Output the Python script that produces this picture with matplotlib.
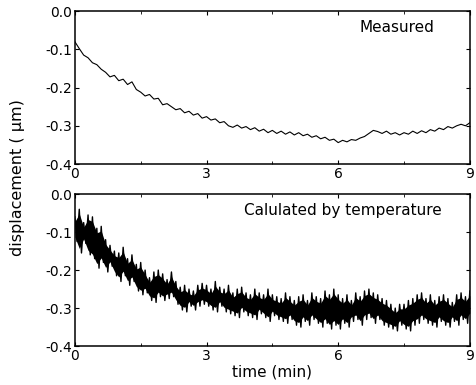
import numpy as np
import matplotlib
matplotlib.use("Agg")
import matplotlib.pyplot as plt
from matplotlib.ticker import MultipleLocator, FormatStrFormatter

plt.rcParams['font.family'] = ['DejaVu Sans']

# time axis, 0.1 min steps
t = np.arange(91) / 10.0

# measured displacement (um)
measured = [
    -0.080, -0.098, -0.115, -0.122, -0.135, -0.140, -0.152, -0.160, -0.172, -0.168,
    -0.182, -0.178, -0.192, -0.185, -0.205, -0.212, -0.222, -0.218, -0.230, -0.228,
    -0.245, -0.242, -0.250, -0.258, -0.255, -0.266, -0.262, -0.272, -0.268, -0.280,
    -0.276, -0.285, -0.282, -0.292, -0.289, -0.300, -0.304, -0.298, -0.306, -0.302,
    -0.310, -0.305, -0.314, -0.309, -0.318, -0.312, -0.320, -0.314, -0.322, -0.316,
    -0.324, -0.318, -0.326, -0.322, -0.330, -0.326, -0.334, -0.330, -0.338, -0.335,
    -0.344, -0.338, -0.342, -0.336, -0.338, -0.332, -0.328, -0.320, -0.312, -0.315,
    -0.320, -0.314, -0.322, -0.318, -0.324, -0.318, -0.322, -0.314, -0.320, -0.313,
    -0.318, -0.310, -0.314, -0.306, -0.310, -0.302, -0.306, -0.300, -0.296, -0.300,
    -0.292,
]

# calculated by temperature: upper / lower edge of the noisy trace
calc_upper = [
    -0.060, -0.040, -0.075, -0.055, -0.060, -0.090, -0.085, -0.120, -0.135, -0.150,
    -0.155, -0.140, -0.170, -0.160, -0.185, -0.180, -0.200, -0.220, -0.205, -0.200,
    -0.210, -0.225, -0.205, -0.230, -0.245, -0.240, -0.250, -0.255, -0.240, -0.235,
    -0.240, -0.250, -0.230, -0.245, -0.250, -0.240, -0.260, -0.250, -0.245, -0.260,
    -0.265, -0.250, -0.260, -0.265, -0.250, -0.265, -0.270, -0.275, -0.260, -0.270,
    -0.280, -0.270, -0.265, -0.280, -0.260, -0.270, -0.275, -0.255, -0.265, -0.250,
    -0.265, -0.275, -0.265, -0.280, -0.260, -0.270, -0.255, -0.250, -0.260, -0.265,
    -0.275, -0.280, -0.290, -0.300, -0.290, -0.290, -0.280, -0.275, -0.265, -0.260,
    -0.275, -0.265, -0.280, -0.270, -0.265, -0.275, -0.285, -0.265, -0.260, -0.270,
    -0.255,
]
calc_lower = [
    -0.125, -0.155, -0.130, -0.160, -0.170, -0.195, -0.180, -0.205, -0.190, -0.215,
    -0.230, -0.215, -0.240, -0.230, -0.255, -0.265, -0.260, -0.280, -0.285, -0.270,
    -0.280, -0.275, -0.270, -0.290, -0.305, -0.310, -0.295, -0.305, -0.295, -0.290,
    -0.295, -0.305, -0.310, -0.295, -0.310, -0.315, -0.320, -0.325, -0.310, -0.320,
    -0.325, -0.330, -0.315, -0.325, -0.335, -0.320, -0.330, -0.335, -0.340, -0.330,
    -0.345, -0.350, -0.335, -0.345, -0.330, -0.340, -0.350, -0.340, -0.355, -0.345,
    -0.355, -0.340, -0.350, -0.335, -0.330, -0.345, -0.330, -0.325, -0.340, -0.330,
    -0.345, -0.350, -0.355, -0.360, -0.345, -0.355, -0.360, -0.345, -0.340, -0.330,
    -0.340, -0.345, -0.350, -0.335, -0.345, -0.350, -0.335, -0.345, -0.330, -0.340,
    -0.325,
]

fig = plt.figure(figsize=(4.77, 3.85), dpi=100)
ax1 = fig.add_axes([0.157, 0.574, 0.828, 0.397])
ax2 = fig.add_axes([0.157, 0.101, 0.828, 0.395])

ax1.plot(t, measured, color='black', lw=0.8)

# dense oscillation: go up to the upper edge, down to the lower edge, and so on
tz = np.ravel(np.column_stack([t, t + 0.05]))[:-1]
yz = np.ravel(np.column_stack([calc_upper, calc_lower]))[:-1]
ax2.fill_between(t, np.array(calc_upper) - 0.012, np.array(calc_lower) + 0.012,
                 color='black', lw=0)
ax2.plot(tz, yz, color='black', lw=1.0)

for ax in (ax1, ax2):
    ax.set_xlim(0, 9)
    ax.set_ylim(-0.4, 0.0)
    ax.xaxis.set_major_locator(MultipleLocator(3))
    ax.xaxis.set_minor_locator(MultipleLocator(1.5))
    ax.yaxis.set_major_locator(MultipleLocator(0.1))
    ax.yaxis.set_major_formatter(FormatStrFormatter('%.1f'))
    ax.tick_params(which='both', direction='in', top=True, right=True,
                   labelsize=10, pad=2)
    ax.tick_params(which='major', length=3)
    ax.tick_params(which='minor', length=2)
    for s in ax.spines.values():
        s.set_linewidth(1.1)

ax1.text(0.91, 0.94, 'Measured', transform=ax1.transAxes, ha='right',
         va='top', fontsize=11)
ax2.text(0.93, 0.94, 'Calulated by temperature', transform=ax2.transAxes,
         ha='right', va='top', fontsize=11)

ax2.set_xlabel('time (min)', fontsize=11, labelpad=1)
fig.text(0.036, 0.54, 'displacement ( \u00b5m)', rotation=90, ha='center',
         va='center', fontsize=11.5)

fig.savefig('out.png', dpi=100)
